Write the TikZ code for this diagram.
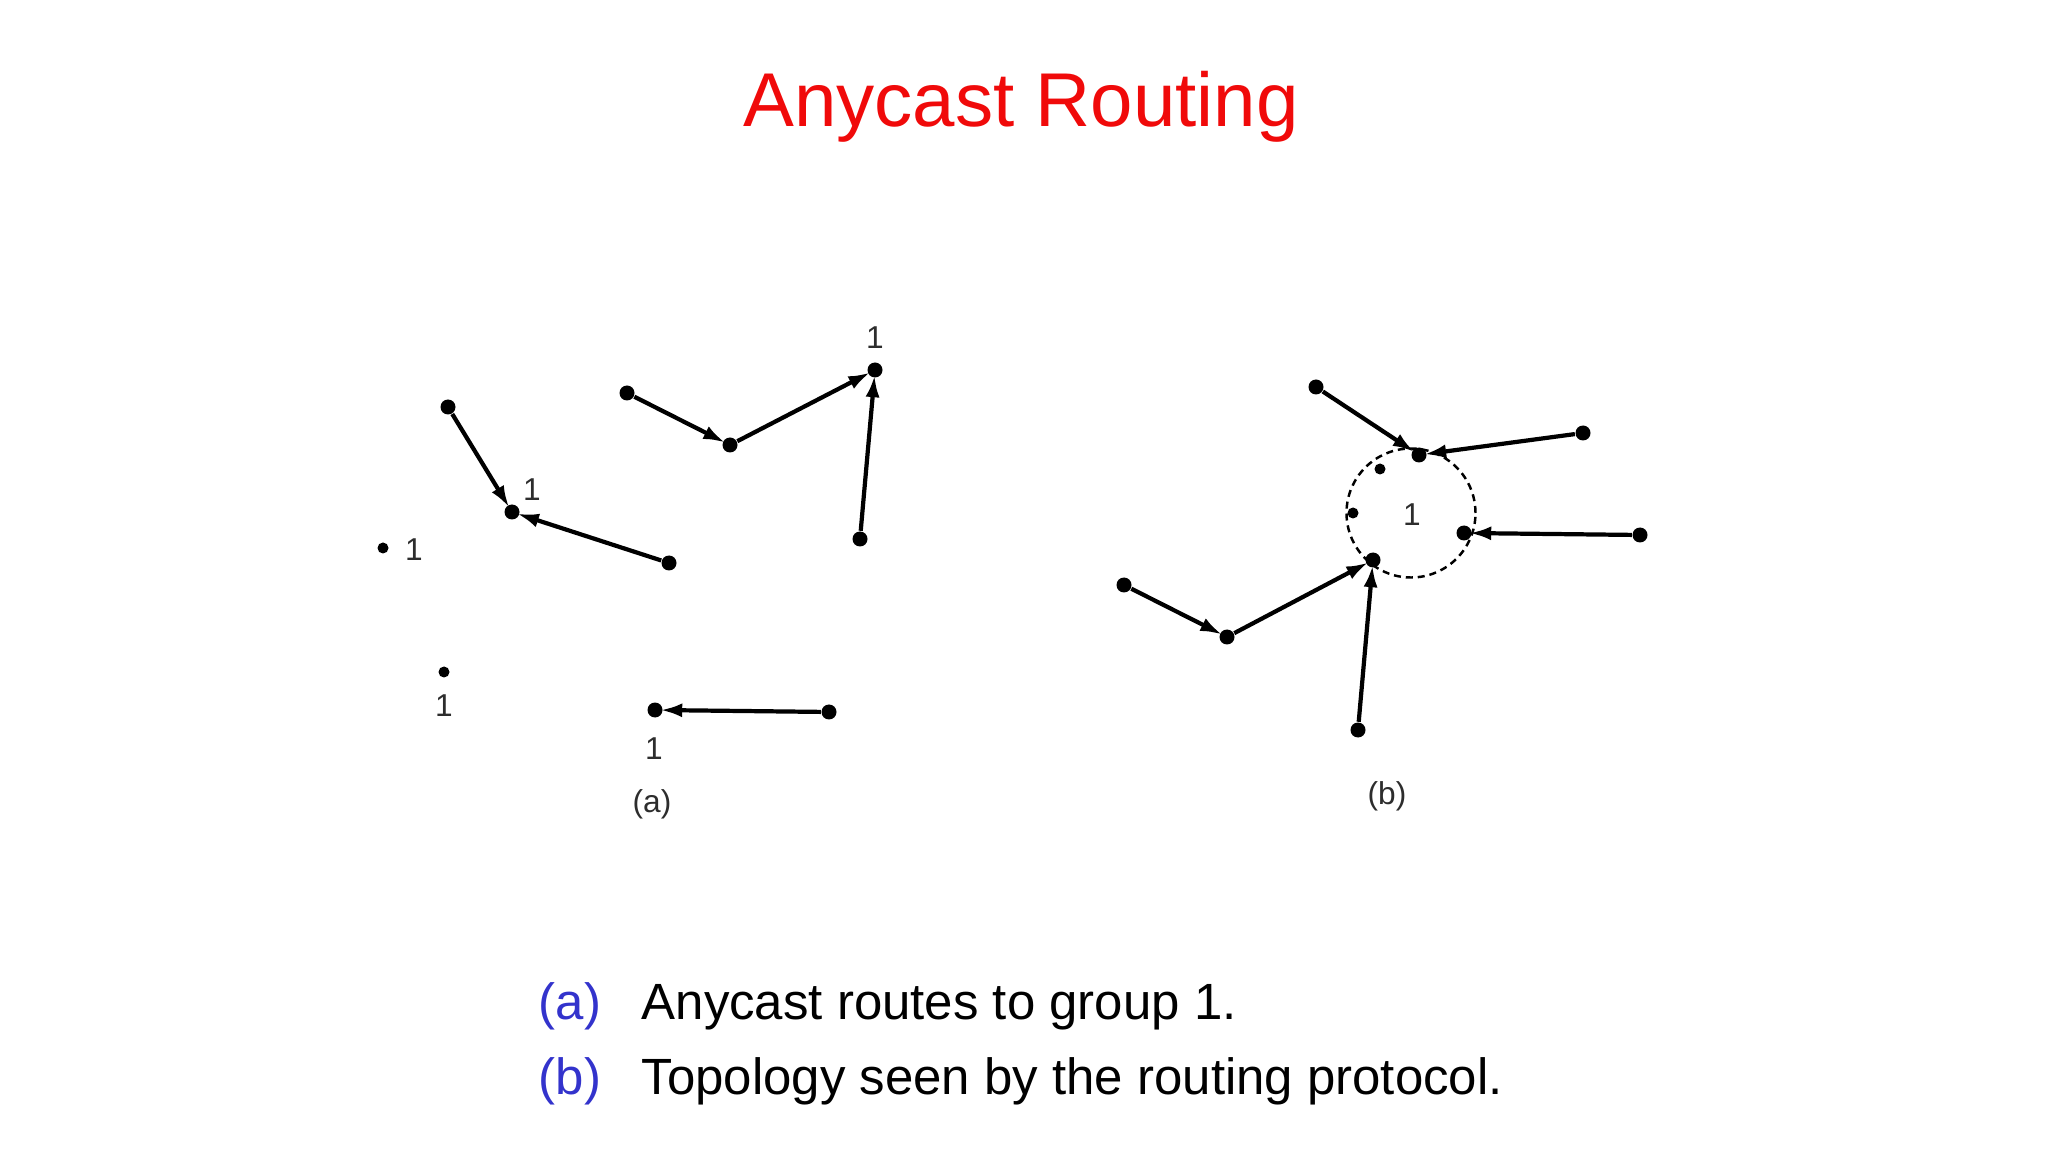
\documentclass[tikz,border=0pt]{standalone}
\usepackage{fontspec}
\setmainfont{Liberation Sans}
\usetikzlibrary{arrows.meta}
\definecolor{titlecolor}{RGB}{240,10,10}
\definecolor{itemcolor}{RGB}{51,51,204}
\definecolor{labelcolor}{RGB}{45,45,45}

\begin{document}
\begin{tikzpicture}[x=1cm,y=-1cm,
	dot/.style={circle,fill=black,inner sep=0pt,minimum size=1.5mm},
	lonedot/.style={circle,fill=black,inner sep=0pt,minimum size=1.1mm},
	route/.style={-{Latex[length=2.2mm,width=1.4mm]},line width=1.2pt,shorten >=-0.3mm},
	tag/.style={text=labelcolor,font=\fontsize{9}{11}\selectfont,inner sep=0pt}]
	\useasboundingbox (0,0) rectangle (20.48,11.52);
	%标题
	\node (title) at (10.21,1.27)[anchor=base,text=titlecolor,font=\fontsize{21.7}{26}\selectfont]{Anycast Routing};

	%(a) 各点
	\node[dot] (a1) at (4.48,4.07){};
	\node[dot] (a2) at (5.12,5.12){};
	\node[dot] (a3) at (6.69,5.63){};
	\node[lonedot] (a4) at (3.83,5.48){};
	\node[lonedot] (a5) at (4.44,6.72){};
	\node[dot] (b1) at (6.27,3.93){};
	\node[dot] (b2) at (7.30,4.45){};
	\node[dot] (b3) at (8.75,3.70){};
	\node[dot] (b4) at (8.60,5.39){};
	\node[dot] (c1) at (6.55,7.10){};
	\node[dot] (c2) at (8.29,7.12){};
	%(a) 标号
	\node[tag] (la2) at (5.32,4.90){1};
	\node[tag] (la4) at (4.14,5.50){1};
	\node[tag] (la5) at (4.44,7.06){1};
	\node[tag] (lb3) at (8.75,3.38){1};
	\node[tag] (lc1) at (6.54,7.49){1};
	\node[tag] (capa) at (6.52,8.04){(a)};
	%(a) 路由
	\draw[route](a1)--(a2);
	\draw[route](a3)--(a2);
	\draw[route](b1)--(b2);
	\draw[route](b2)--(b3);
	\draw[route](b4)--(b3);
	\draw[route](c2)--(c1);

	%(b) 虚线圆
	\draw[line width=0.7pt,dash pattern=on 2pt off 1.4pt](14.11,5.13) circle[radius=6.45mm];
	%(b) 各点
	\node[dot] (d1) at (13.16,3.87){};
	\node[dot] (d2) at (14.19,4.55){};
	\node[dot] (d3) at (15.83,4.33){};
	\node[dot] (d4) at (14.64,5.33){};
	\node[dot] (d5) at (16.40,5.35){};
	\node[dot] (d6) at (13.73,5.60){};
	\node[dot] (d7) at (11.24,5.85){};
	\node[dot] (d8) at (12.27,6.37){};
	\node[dot] (d9) at (13.58,7.30){};
	\node[lonedot] (e1) at (13.80,4.69){};
	\node[lonedot] (e2) at (13.53,5.13){};
	\node[tag] (ld) at (14.12,5.15){1};
	\node[tag] (capb) at (13.87,7.96){(b)};
	%(b) 路由
	\draw[route](d1)--(d2);
	\draw[route](d3)--(d2);
	\draw[route](d5)--(d4);
	\draw[route](d7)--(d8);
	\draw[route](d8)--(d6);
	\draw[route](d9)--(d6);

	%图注
	\node (ia) at (5.38,10.19)[anchor=base west,text=itemcolor,font=\fontsize{14.5}{17}\selectfont,inner sep=0pt]{(a)};
	\node (ta) at (6.41,10.19)[anchor=base west,font=\fontsize{14.5}{17}\selectfont,inner sep=0pt]{Anycast routes to group 1.};
	\node (ib) at (5.38,10.94)[anchor=base west,text=itemcolor,font=\fontsize{14.5}{17}\selectfont,inner sep=0pt]{(b)};
	\node (tb) at (6.41,10.94)[anchor=base west,font=\fontsize{14.5}{17}\selectfont,inner sep=0pt]{Topology seen by the routing protocol.};
\end{tikzpicture}
\end{document}
